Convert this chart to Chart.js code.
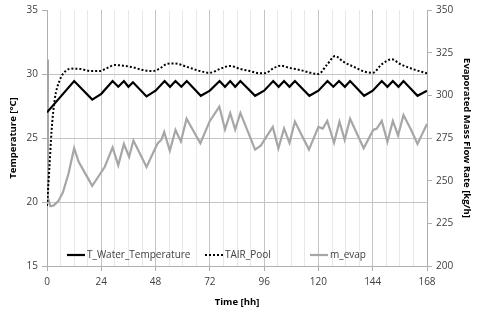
<!DOCTYPE html>
<html>
<head>
<meta charset="utf-8">
<script src="https://cdn.jsdelivr.net/npm/chart.js@4.4.1/dist/chart.umd.min.js"></script>
<style>
  html, body { margin: 0; padding: 0; background: #ffffff; }
  #wrap { width: 480px; height: 314px; position: relative; }
</style>
</head>
<body>
<div id="wrap"><canvas id="c" width="480" height="314"></canvas></div>
<script>
// ---- Data ----
const timeTicks = [0, 24, 48, 72, 96, 120, 144, 168];

const waterTimes = [0, 12, 20, 24, 29, 31.5, 34, 36, 38, 44, 48, 52, 54.4, 56.8, 59.4, 61.8, 68, 72, 76.3, 78.7, 81, 83.2, 85.5, 92, 96, 100, 102.4, 104.8, 107.2, 109.6, 116, 120, 124, 126.6, 129.1, 131.7, 134, 140.2, 144, 148, 150.5, 152.9, 155.4, 157.6, 163.8, 168];
const waterTemps = [27.0, 29.45, 28.0, 28.45, 29.45, 29.0, 29.45, 29.0, 29.35, 28.25, 28.7, 29.45, 29.0, 29.45, 29.0, 29.45, 28.3, 28.7, 29.45, 29.0, 29.45, 29.0, 29.45, 28.3, 28.7, 29.45, 29.0, 29.45, 29.0, 29.45, 28.3, 28.7, 29.45, 29.0, 29.45, 29.0, 29.45, 28.3, 28.7, 29.45, 29.0, 29.45, 29.0, 29.45, 28.3, 28.7];

const airTimes = [0, 1, 2, 3.4, 5.6, 8, 11, 14.5, 19.6, 23.3, 26.3, 30, 33.6, 38, 42.5, 46.9, 49.9, 52.9, 56.5, 61.7, 67.6, 72, 76.5, 80.9, 85.3, 89.7, 94.1, 97.1, 100, 103.3, 106.7, 111.9, 120, 123.7, 127.4, 131, 135.5, 140.6, 144, 148, 152.5, 156.1, 162, 168];
const airTemps = [19.7, 22.5, 25.5, 28.0, 29.5, 30.2, 30.42, 30.4, 30.23, 30.23, 30.44, 30.7, 30.65, 30.52, 30.31, 30.23, 30.44, 30.78, 30.83, 30.57, 30.23, 30.1, 30.4, 30.63, 30.4, 30.23, 30.05, 30.1, 30.44, 30.65, 30.5, 30.31, 30.0, 30.7, 31.4, 30.96, 30.57, 30.18, 30.1, 30.76, 31.15, 30.78, 30.37, 30.05];

const evapTimes = [0, 0.4, 1.5, 3, 5, 7, 9.5, 12, 14, 17, 20, 22.5, 25.5, 29, 31.5, 34, 36.3, 38.2, 41, 44, 47.5, 49, 50.6, 51.8, 54.3, 56.8, 59.2, 61.7, 67.8, 72, 76.2, 78.7, 81, 83.2, 85.5, 92, 94.5, 99.8, 102.3, 104.8, 107.2, 109.6, 115.8, 120, 121.9, 123.9, 126.9, 129.3, 131.6, 134, 140, 144.2, 145.8, 148, 150.5, 152.9, 155.2, 157.6, 161, 163.8, 168];
const evapRates = [321, 240, 235, 235.5, 238, 243, 254, 269, 261, 254, 247, 252, 258, 269.5, 259, 271.5, 264, 273.5, 266, 258, 268, 272, 274, 278.5, 267.5, 279.7, 273, 286.3, 271.9, 285, 293.4, 280, 289.5, 280, 289.7, 268.2, 270.5, 281.5, 269, 280.6, 272.2, 284.6, 268.2, 281.5, 280.5, 285, 272.2, 284.6, 274, 286.3, 269, 279.7, 280.5, 285, 272.8, 285, 276.5, 288.5, 279.7, 271.5, 283.2];

const seriesNames = ['T_Water_Temperature', 'TAIR_Pool', 'm_evap'];

// ---- Build ----
const pts = (xs, ys) => xs.map((x, i) => ({ x: x, y: ys[i] }));
const FONT = '"Open Sans", "Noto Sans", sans-serif';
const TXT = '#404040';

const legendInside = {
  id: 'legendInside',
  afterDraw(chart) {
    const ctx = chart.ctx;
    const a = chart.chartArea;
    const y = a.bottom - 11;
    const offsets = [20, 158, 263];
    ctx.save();
    ctx.font = '10px ' + FONT;
    ctx.textBaseline = 'middle';
    ctx.fillStyle = TXT;
    chart.data.datasets.forEach((ds, i) => {
      const x0 = a.left + offsets[i];
      ctx.beginPath();
      ctx.strokeStyle = ds.borderColor;
      ctx.lineWidth = ds.borderWidth;
      ctx.setLineDash(ds.borderDash || []);
      ctx.moveTo(x0, y);
      ctx.lineTo(x0 + 18, y);
      ctx.stroke();
      ctx.setLineDash([]);
      ctx.fillText(ds.label, x0 + 20, y + 0.5);
    });
    ctx.restore();
  }
};

new Chart(document.getElementById('c'), {
  type: 'line',
  data: {
    datasets: [
      { label: seriesNames[0], data: pts(waterTimes, waterTemps), yAxisID: 'yL',
        borderColor: '#000000', borderWidth: 2.2, pointRadius: 0, tension: 0, fill: false, order: 2 },
      { label: seriesNames[1], data: pts(airTimes, airTemps), yAxisID: 'yL',
        borderColor: '#000000', borderWidth: 2, borderDash: [2, 2], pointRadius: 0,
        cubicInterpolationMode: 'monotone', fill: false, order: 1 },
      { label: seriesNames[2], data: pts(evapTimes, evapRates), yAxisID: 'yR',
        borderColor: '#a6a6a6', borderWidth: 2.2, pointRadius: 0, tension: 0, fill: false, order: 3 }
    ]
  },
  options: {
    responsive: false,
    animation: false,
    parsing: true,
    layout: { padding: { top: 10, left: 0, right: 0, bottom: 0 } },
    plugins: { legend: { display: false }, tooltip: { enabled: false } },
    scales: {
      x: {
        type: 'linear', min: 0, max: 168,
        afterBuildTicks(s) {
          const t = [];
          for (let v = 0; v <= 168; v += 6) t.push({ value: v });
          s.ticks = t;
        },
        afterFit(s) { s.height = 48; },
        ticks: {
          autoSkip: false, maxRotation: 0, padding: 5, color: TXT,
          font: { family: FONT, size: 10 },
          callback: (v) => timeTicks.includes(v) ? String(v) : ''
        },
        grid: {
          color: (c) => (c.tick && c.tick.value % 24 === 0) ? '#c4c4c4' : '#e8e8e8',
          tickLength: 5,
          tickColor: (c) => (c.tick && c.tick.value % 24 === 0) ? '#b0b0b0' : 'rgba(0,0,0,0)'
        },
        border: { display: true, color: '#b0b0b0' },
        title: { display: true, text: 'Time [hh]', color: '#000', font: { family: FONT, size: 9.5, weight: 'bold' }, padding: { top: 2, bottom: 6 } }
      },
      yL: {
        position: 'left', min: 15, max: 35,
        afterFit(s) { s.width = 47; },
        ticks: { stepSize: 5, padding: 4, color: TXT, font: { family: FONT, size: 10 } },
        grid: {
          color: (c) => (c.tick && (c.tick.value === 35 || c.tick.value === 15)) ? 'rgba(0,0,0,0)' : '#c4c4c4',
          tickLength: 5, tickColor: '#b0b0b0'
        },
        border: { display: true, color: '#b0b0b0' },
        title: { display: true, text: 'Temperature [°C]', color: '#000', font: { family: FONT, size: 9.5, weight: 'bold' }, padding: { top: 8, bottom: 0 } }
      },
      yR: {
        position: 'right', min: 200, max: 350,
        afterFit(s) { s.width = 53; },
        ticks: { stepSize: 25, padding: 4, color: TXT, font: { family: FONT, size: 10 } },
        grid: { drawOnChartArea: false, tickLength: 5, tickColor: '#b0b0b0' },
        border: { display: true, color: '#b0b0b0' },
        title: { display: true, text: 'Evaporated Mass Flow Rate [kg/h]', color: '#000', font: { family: FONT, size: 9.5, weight: 'bold' }, padding: { top: 8, bottom: 0 } }
      }
    }
  },
  plugins: [legendInside]
});
</script>
</body>
</html>
